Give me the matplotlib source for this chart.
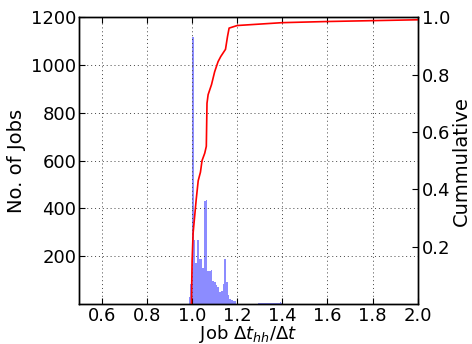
import matplotlib
matplotlib.use("Agg")
import matplotlib.pyplot as plt
import numpy as np

# Histogram bins (left edges, width) and counts
bin_edges = [0.985, 0.9925, 0.998, 1.0105, 1.015, 1.0225, 1.03, 1.0375, 1.045, 1.0525,
             1.06, 1.0675, 1.075, 1.0825, 1.09, 1.0975, 1.105, 1.1125, 1.12, 1.1275,
             1.135, 1.1425, 1.15, 1.1575, 1.165, 1.1725, 1.18, 1.1875, 1.195]
counts = [30, 84, 1116, 270, 170, 268, 190, 187, 150, 430,
          435, 140, 138, 142, 98, 93, 80, 70, 52, 55,
          86, 187, 92, 40, 22, 17, 12, 14]
tail_edges = [1.25, 1.2575, 1.29, 1.2975, 1.305, 1.3125, 1.32, 1.3275, 1.335, 1.3425,
              1.35, 1.3575, 1.365, 1.3725, 1.38, 1.3875, 1.395, 1.4025]
tail_counts = [2, 0, 4, 5, 5, 6, 4, 5, 6, 5, 4, 5, 6, 4, 5, 8, 3]

# Cumulative curve
cum_x = [0.997, 1.0, 1.0044, 1.018, 1.027, 1.037, 1.044, 1.056, 1.063, 1.066,
         1.071, 1.086, 1.100, 1.115, 1.127, 1.148, 1.157, 1.164, 1.2, 1.4,
         1.6, 1.8, 2.0, 2.1]
cum_y = [0.0, 0.15, 0.247, 0.363, 0.43, 0.46, 0.50, 0.526, 0.55, 0.70,
         0.73, 0.765, 0.81, 0.845, 0.863, 0.888, 0.933, 0.962, 0.971, 0.981,
         0.985, 0.988, 0.991, 0.992]

x_ticks = [0.6, 0.8, 1.0, 1.2, 1.4, 1.6, 1.8, 2.0]
y1_ticks = [200, 400, 600, 800, 1000, 1200]
y2_ticks = [0.2, 0.4, 0.6, 0.8, 1.0]

plt.rcParams['font.family'] = ['DejaVu Sans']
plt.rcParams['mathtext.fontset'] = 'dejavusans'

fig = plt.figure(figsize=(4.72, 3.44), dpi=100, facecolor='white')
ax1 = fig.add_axes([0.168, 0.116, 0.717, 0.834])

all_edges = np.array(bin_edges)
lefts = all_edges[:-1]
widths = np.diff(all_edges)
ax1.bar(lefts, counts, width=widths, align='edge', color='blue', alpha=0.45,
        edgecolor='none', linewidth=0)
te = np.array(tail_edges)
ax1.bar(te[:-1], tail_counts, width=np.diff(te), align='edge', color='blue',
        alpha=0.45, edgecolor='none', linewidth=0)

ax1.set_xlim(0.5, 2.0)
ax1.set_ylim(0, 1200)
ax1.set_xticks(x_ticks)
ax1.set_yticks(y1_ticks)
ax1.grid(True, color='#444444', linestyle=(0, (1, 3)), linewidth=0.7)
ax1.tick_params(direction='in', labelsize=13, top=True, length=4, pad=2)
ax1.set_xlabel(r'Job $\Delta t_{hh}/\Delta t$', fontsize=13, labelpad=-1)
ax1.set_ylabel('No. of Jobs', fontsize=14, labelpad=4)

ax2 = ax1.twinx()
ax2.plot(cum_x, cum_y, color='red', linewidth=1.2)
ax2.set_ylim(0, 1.0)
ax2.set_xlim(0.5, 2.0)
ax2.set_yticks(y2_ticks)
ax2.tick_params(direction='in', labelsize=13, length=4, pad=3)
ax2.set_ylabel('Cummulative', fontsize=14, labelpad=1)

for ax in (ax1, ax2):
    for s in ax.spines.values():
        s.set_linewidth(1.0)
        s.set_color('black')

fig.savefig('out.png', dpi=100, facecolor='white')
